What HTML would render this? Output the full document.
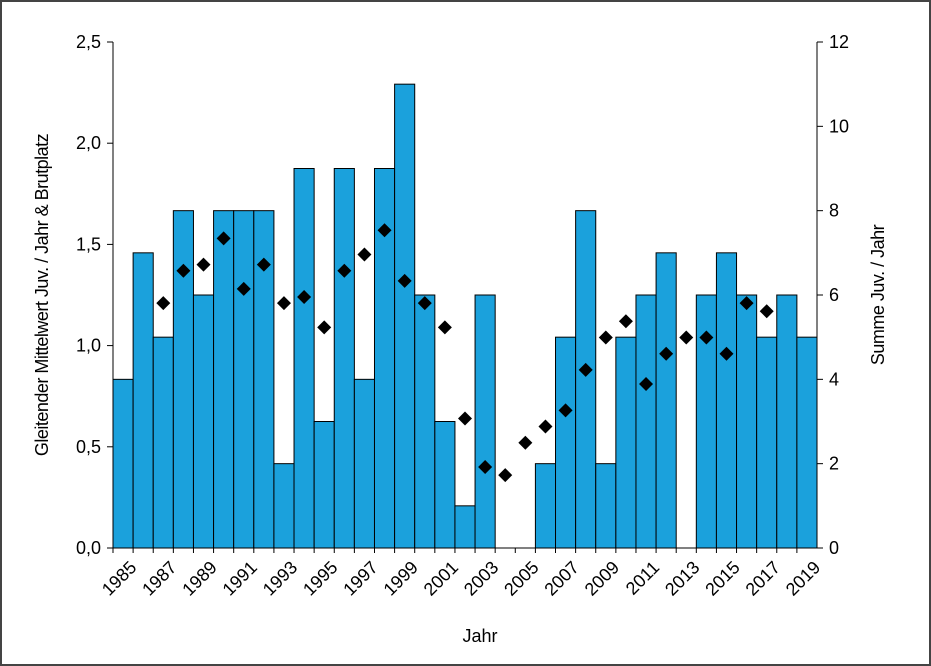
<!DOCTYPE html>
<html><head><meta charset="utf-8"><style>
body{margin:0;background:#fff;}
svg{display:block;font-family:"Liberation Sans",sans-serif;}
</style></head><body>
<svg id="c" width="931" height="666" viewBox="0 0 931 666">
<rect x="1" y="1" width="929" height="664" fill="#fff" stroke="#444" stroke-width="2"/>
<g id="bars"></g>
<g id="pts"></g>
<g id="axes"></g>
<text x="480" y="642" font-size="18" text-anchor="middle">Jahr</text>
<text transform="translate(48,295) rotate(-90)" font-size="18" text-anchor="middle" letter-spacing="-0.5">Gleitender Mittelwert Juv. / Jahr &amp; Brutplatz</text>
<text transform="translate(884,295) rotate(-90)" font-size="18" text-anchor="middle" letter-spacing="-0.5">Summe Juv. / Jahr</text>
</svg>
<script>
const years=[1985,1986,1987,1988,1989,1990,1991,1992,1993,1994,1995,1996,1997,1998,1999,2000,2001,2002,2003,2004,2005,2006,2007,2008,2009,2010,2011,2012,2013,2014,2015,2016,2017,2018,2019];
const sums=[4,7,5,8,6,8,8,8,2,9,3,9,4,9,11,6,3,1,6,0,0,2,5,8,2,5,6,7,0,6,7,6,5,6,5];
const avgYears=[1987,1988,1989,1990,1991,1992,1993,1994,1995,1996,1997,1998,1999,2000,2001,2002,2003,2004,2005,2006,2007,2008,2009,2010,2011,2012,2013,2014,2015,2016,2017];
const avgs=[1.21,1.37,1.40,1.53,1.28,1.40,1.21,1.24,1.09,1.37,1.45,1.57,1.32,1.21,1.09,0.64,0.40,0.36,0.52,0.60,0.68,0.88,1.04,1.12,0.81,0.96,1.04,1.04,0.96,1.21,1.17];
const leftTicks=["0,0","0,5","1,0","1,5","2,0","2,5"];
const rightTicks=[0,2,4,6,8,10,12];
const X0=113,X1=817,Y0=548,Y1=42,bw=(X1-X0)/years.length;
const xL=y=>X0+(y-years[0])*bw;
const yR=v=>Y0-v/12*(Y0-Y1);
const yL=v=>Y0-v/2.5*(Y0-Y1);
const NS="http://www.w3.org/2000/svg";
function mk(p,t,a){const e=document.createElementNS(NS,t);for(const k in a)e.setAttribute(k,a[k]);p.appendChild(e);return e;}
const gb=document.getElementById('bars'),gp=document.getElementById('pts'),ga=document.getElementById('axes');
years.forEach((y,i)=>{if(sums[i]<=0)return;
const r=mk(gb,'rect',{x:xL(y),y:yR(sums[i]),width:bw,height:Y0-yR(sums[i]),fill:"#1ba1dc",stroke:"#000","stroke-width":1});

});
avgYears.forEach((y,i)=>{const cx=xL(y)+bw/2,cy=yL(avgs[i]),s=7;
const p=mk(gp,'polygon',{points:`${cx},${cy-s} ${cx+s},${cy} ${cx},${cy+s} ${cx-s},${cy}`,fill:"#000"});

});
mk(ga,'line',{x1:X0,y1:Y1,x2:X0,y2:Y0,stroke:"#000"});
mk(ga,'line',{x1:X1,y1:Y1,x2:X1,y2:Y0,stroke:"#000"});
mk(ga,'line',{x1:X0,y1:Y0,x2:X1,y2:Y0,stroke:"#000"});
leftTicks.forEach((t,i)=>{const y=yL(i*0.5);mk(ga,'line',{x1:X0-6,y1:y,x2:X0,y2:y,stroke:"#000"});
const tx=mk(ga,'text',{x:X0-12,y:y+6,"font-size":18,"text-anchor":"end"});tx.textContent=t;

});
rightTicks.forEach(v=>{const y=yR(v);mk(ga,'line',{x1:X1,y1:y,x2:X1+6,y2:y,stroke:"#000"});
const tx=mk(ga,'text',{x:X1+12,y:y+6,"font-size":18});tx.textContent=v;

});
years.forEach(y=>{mk(ga,'line',{x1:xL(y),y1:Y0,x2:xL(y),y2:Y0+5,stroke:"#000"});
if((y-1985)%2)return;const cx=xL(y)+bw/2+6,cy=Y0+12;
const tx=mk(ga,'text',{x:cx,y:cy,"font-size":18,"text-anchor":"end",transform:`rotate(-45 ${cx} ${cy})`,dy:"12"});tx.textContent=y;

});
</script>
</body></html>
